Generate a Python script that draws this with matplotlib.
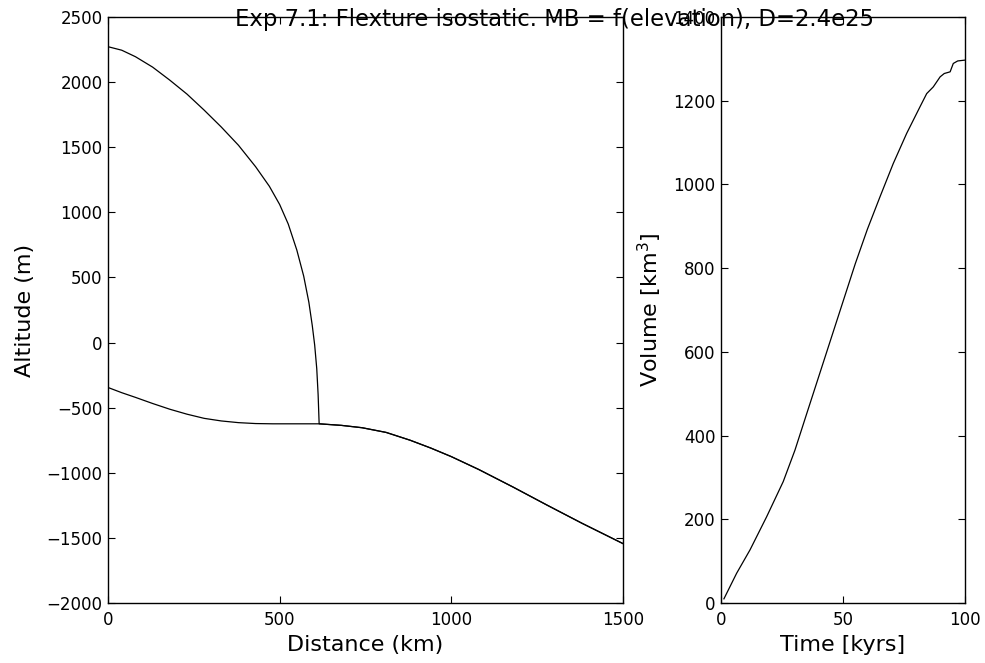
import matplotlib
matplotlib.use("Agg")
import matplotlib.pyplot as plt

# ---- data ----
surf_x = [0, 40, 80, 130, 180, 230, 280, 330, 380, 430, 470, 500, 525, 550, 570, 585, 595, 602, 608, 612, 615]
surf_y = [2272, 2245, 2195, 2115, 2015, 1908, 1785, 1655, 1515, 1350, 1200, 1060, 910, 710, 510, 310, 130, -20, -200, -400, -624]

bed_x = [0, 40, 80, 130, 180, 230, 280, 330, 380, 430, 480, 530, 615, 680, 740, 810, 880, 940, 1000, 1080, 1180, 1280, 1380, 1500]
bed_y = [-345, -385, -421, -468, -512, -550, -582, -602, -615, -622, -624, -624, -624, -636, -654, -690, -750, -810, -876, -975, -1110, -1250, -1387, -1544]

time_kyr = [1.2, 6.4, 11.9, 18.7, 25.5, 30.3, 35, 40, 45, 50, 55, 60, 65.2, 70.6, 76.1, 81.6, 84.3, 87, 89.8, 91.5, 93.9, 95.2, 97, 100]
volume_km3 = [10, 71, 127, 206, 290, 365, 450, 540, 630, 720, 810, 893, 971, 1050, 1122, 1186, 1217, 1233, 1257, 1265, 1269, 1289, 1295, 1297]

title_text = "Exp 7.1: Flexture isostatic. MB = f(elevation), D=2.4e25"

W, H = 985, 663
fig = plt.figure(figsize=(W / 100, H / 100), dpi=100)

def frac(x0, x1, ytop, ybot):
    return [x0 / W, 1 - ybot / H, (x1 - x0) / W, (ybot - ytop) / H]

ax1 = fig.add_axes(frac(108, 623, 17, 603))
ax2 = fig.add_axes(frac(721, 965, 17, 603))

lw = 0.9
# surface continues along the bed beyond the ice margin
sx = surf_x + [x for x in bed_x if x > 615]
sy = surf_y + [y for x, y in zip(bed_x, bed_y) if x > 615]
ax1.plot(sx, sy, color="black", lw=lw)
ax1.plot(bed_x, bed_y, color="black", lw=lw)
ax1.set_xlim(0, 1500)
ax1.set_ylim(-2000, 2500)
ax1.set_xticks([0, 500, 1000, 1500])
yt = list(range(-2000, 2501, 500))
ax1.set_yticks(yt)
ax1.set_yticklabels([str(v).replace("-", "\u2212") for v in yt])
ax1.set_xlabel("Distance (km)", fontsize=16)
ax1.set_ylabel("Altitude (m)", fontsize=16)

ax2.plot(time_kyr, volume_km3, color="black", lw=lw)
ax2.set_xlim(0, 100)
ax2.set_ylim(0, 1400)
ax2.set_xticks([0, 50, 100])
ax2.set_yticks(list(range(0, 1401, 200)))
ax2.set_xlabel("Time [kyrs]", fontsize=16)
ax2.set_ylabel("Volume [km$^3$]", fontsize=16)

for ax in (ax1, ax2):
    ax.tick_params(direction="in", top=True, right=True, length=5, width=0.8,
                   labelsize=12, colors="black")
    ax.tick_params(axis="x", pad=6)
    ax.tick_params(axis="y", pad=4)
    for s in ax.spines.values():
        s.set_linewidth(1.0)
    ax.xaxis.labelpad = 4

ax1.yaxis.set_label_coords(-0.142, 0.5)
ax2.yaxis.set_label_coords(-0.235, 0.5)

fig.text(554.5 / W, 1 - 26 / H, title_text, fontsize=16.4, ha="center", va="baseline")

fig.savefig("out.png", dpi=100)
